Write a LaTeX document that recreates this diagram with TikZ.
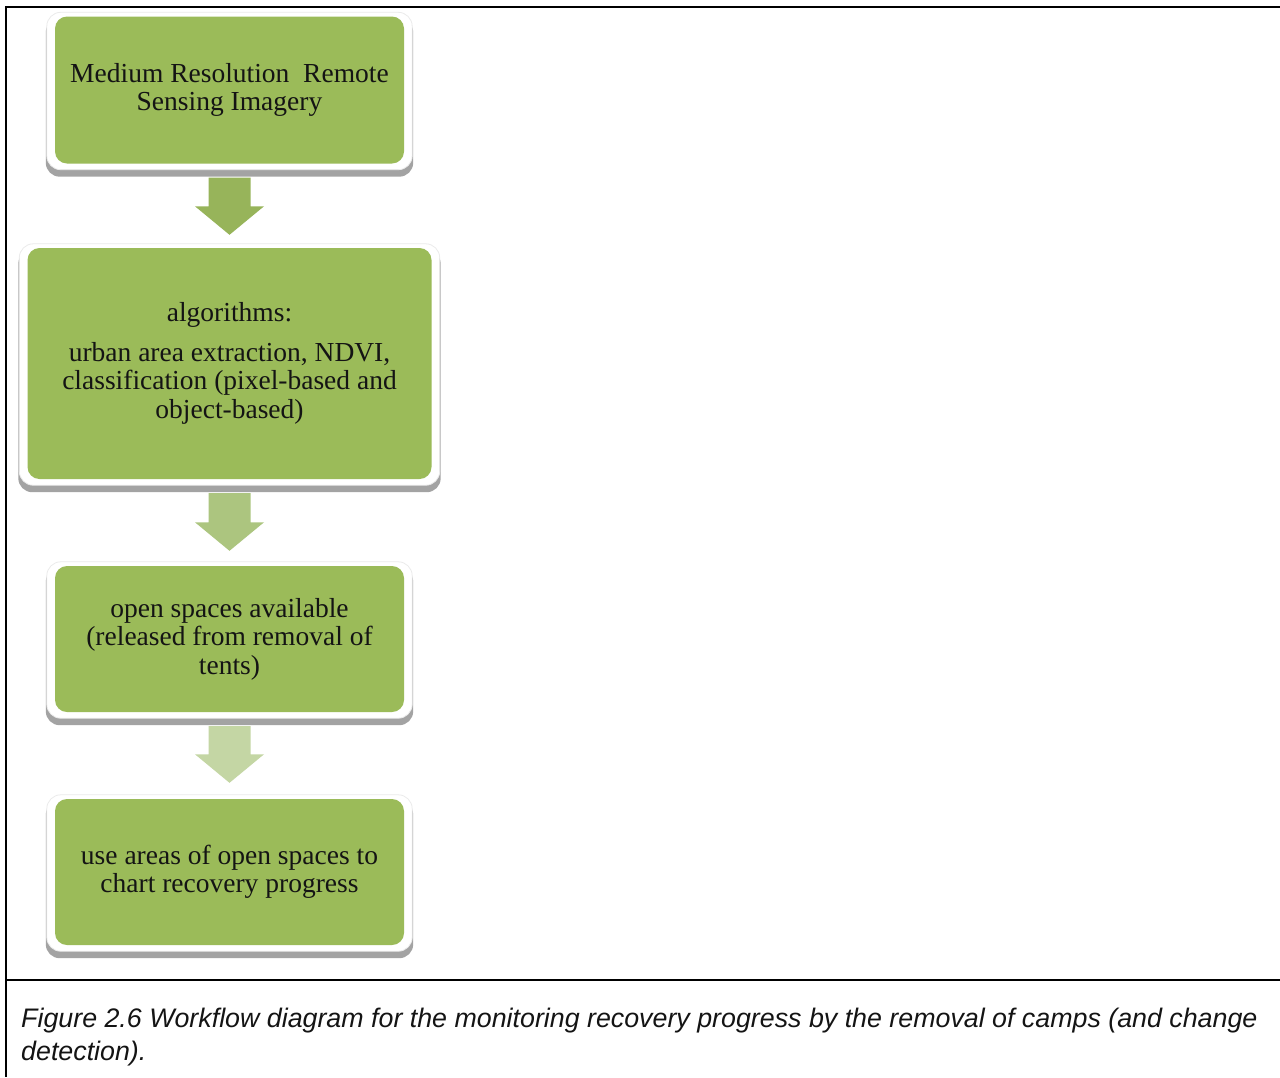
\documentclass[tikz,border=0pt]{standalone}
\usepackage{fontspec}
\setmainfont{Liberation Serif}
\newfontfamily\capfont{Liberation Sans}
\usetikzlibrary{calc,backgrounds}
\definecolor{boxgreen}{HTML}{9BBB59}
\definecolor{arrowA}{HTML}{97B45A}
\definecolor{arrowB}{HTML}{ACC57F}
\definecolor{arrowC}{HTML}{C4D6A4}
\definecolor{shadowgray}{HTML}{A3A3A3}
\definecolor{textdark}{HTML}{141414}
\tikzset{
  greenbox/.style={fill=boxgreen, draw=none, rounded corners=12pt, inner sep=0pt,
    align=center, text=textdark, font=\fontsize{27.5}{28.5}\selectfont},
  whiteframe/.style={fill=white, draw=black!8, line width=0.8pt, rounded corners=14pt},
  frameshadow/.style={fill=shadowgray, rounded corners=14pt},
  frameline/.style={line width=2pt, draw=black},
}
\begin{document}
\begin{tikzpicture}[x=1pt,y=-1pt]
\useasboundingbox (0,0) rectangle (1280,1077);

% boxes
\node[greenbox, minimum width=349pt, minimum height=147pt] (b1) at (229.5,90)
  {Medium Resolution~ Remote\\Sensing Imagery};
\node[greenbox, minimum width=404pt, minimum height=231pt] (b2) at (229.5,363.5)
  {algorithms:\\[11pt]urban area extraction, NDVI,\\classification (pixel-based and\\object-based)};
\node[greenbox, minimum width=349pt, minimum height=146pt] (b3) at (229.5,639)
  {open spaces available\\(released from removal of\\tents)};
\node[greenbox, minimum width=349pt, minimum height=146pt] (b4) at (229.5,872)
  {use areas of open spaces to\\chart recovery progress};

\begin{scope}[on background layer]
  \fill[white] (0,0) rectangle (1280,1077);
  \foreach \b in {b1,b2,b3,b4}{
    \fill[frameshadow] ($(\b.north west)+(-9,2)$) rectangle ($(\b.south east)+(9,13)$);
    \filldraw[whiteframe] ($(\b.north west)+(-8,-4)$) rectangle ($(\b.south east)+(8,6)$);
  }
\end{scope}

% block arrows
\coordinate (a1) at ($(b1.south)+(0,14)$);
\coordinate (t1) at ($(b2.north)+(0,-13)$);
\coordinate (a2) at ($(b2.south)+(0,14)$);
\coordinate (t2) at ($(b3.north)+(0,-15)$);
\coordinate (a3) at ($(b3.south)+(0,14)$);
\coordinate (t3) at ($(b4.north)+(0,-16)$);
\foreach \a/\t/\c in {a1/t1/arrowA, a2/t2/arrowB, a3/t3/arrowC}{
  \fill[\c] ($(\a)+(-21,0)$) -- ($(\a)+(21,0)$) -- ($(\t)+(21,-28.5)$) -- ($(\t)+(34.5,-28.5)$)
    -- (\t) -- ($(\t)+(-34.5,-28.5)$) -- ($(\t)+(-21,-28.5)$) -- cycle;
}

% outer frame
\draw[frameline] (1280,7) -- (6,7) -- (6,1077);
\draw[frameline] (6,980) -- (1280,980);

% caption
\node[anchor=north west, inner sep=0pt, align=left, text=textdark,
      font=\capfont\itshape\fontsize{26.8}{33}\selectfont] (cap) at (21,1008)
  {Figure 2.6 Workflow diagram for the monitoring recovery progress by the removal of camps (and change\\detection).};
\end{tikzpicture}
\end{document}
